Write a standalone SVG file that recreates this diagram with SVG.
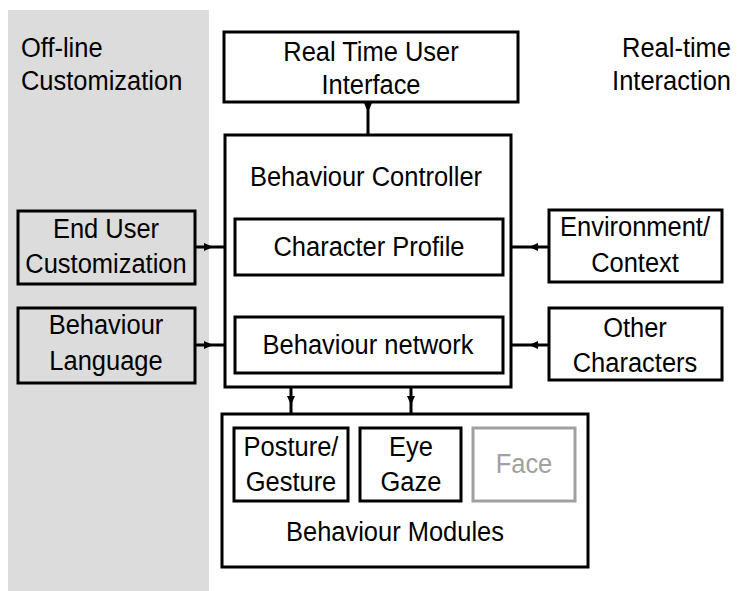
<svg xmlns="http://www.w3.org/2000/svg" width="737" height="591" viewBox="0 0 737 591">
  <style>
    text { font-family: "Liberation Sans", Arial, sans-serif; font-size: 28px; fill: #000;
           transform-box: fill-box; transform-origin: center; transform: scaleX(0.91); }
    .mid { text-anchor: middle; }
    .start { transform-origin: left; }
    .end { text-anchor: end; transform-origin: right; }
    .box { fill: #fff; stroke: #000; stroke-width: 3; }
    .gbox { fill: #dcdcdc; stroke: #000; stroke-width: 3; }
    .dim { fill: #fff; stroke: #a0a0a0; stroke-width: 3; }
    .dimtxt { fill: #a0a0a0; }
    .wire { fill: none; stroke: #000; stroke-width: 3; marker-mid: url(#head); }
  </style>
  <defs>
    <marker id="head" markerUnits="userSpaceOnUse" viewBox="-10 -5 11 10" refX="0" refY="0" markerWidth="11" markerHeight="10" orient="auto">
      <path d="M-9,-4 L0,0 L-9,4 z" fill="#000"/>
    </marker>
  </defs>

  <!-- off-line zone -->
  <rect id="offline-zone" x="8" y="10" width="201" height="581" fill="#dcdcdc"/>
  <g id="label-offline">
    <text class="start" x="21" y="57">Off-line</text>
    <text class="start" x="21" y="90">Customization</text>
  </g>
  <g id="label-realtime">
    <text class="end" x="731" y="57">Real-time</text>
    <text class="end" x="731" y="90">Interaction</text>
  </g>

  <!-- connectors -->
  <g id="connectors">
    <path class="wire" d="M368,102 L368,112 L368,135"/>
    <path class="wire" d="M195,247 L213,247 L235,247"/>
    <path class="wire" d="M195,345 L213,345 L235,345"/>
    <path class="wire" d="M549,247 L529,247 L503,247"/>
    <path class="wire" d="M549,345 L529,345 L503,345"/>
    <path class="wire" d="M291,387 L291,405 L291,428"/>
    <path class="wire" d="M411,387 L411,405 L411,428"/>
  </g>

  <g id="rt-ui">
    <rect class="box" x="224" y="32" width="294" height="70"/>
    <text class="mid" x="371" y="61">Real Time User</text>
    <text class="mid" x="371" y="94">Interface</text>
  </g>

  <g id="behaviour-controller">
    <rect class="box" x="225" y="135" width="286" height="252" fill="none"/>
    <text class="mid" x="366" y="186">Behaviour Controller</text>
  </g>

  <g id="character-profile">
    <rect class="box" x="235" y="219" width="268" height="56"/>
    <text class="mid" x="369" y="256">Character Profile</text>
  </g>

  <g id="behaviour-network">
    <rect class="box" x="235" y="317" width="268" height="56"/>
    <text class="mid" x="368" y="354">Behaviour network</text>
  </g>

  <g id="end-user-customization">
    <rect class="gbox" x="18" y="211" width="177" height="73"/>
    <text class="mid" x="106" y="238">End User</text>
    <text class="mid" x="106" y="273">Customization</text>
  </g>

  <g id="behaviour-language">
    <rect class="gbox" x="18" y="308" width="177" height="75"/>
    <text class="mid" x="106" y="334">Behaviour</text>
    <text class="mid" x="106" y="370">Language</text>
  </g>

  <g id="environment-context">
    <rect class="box" x="549" y="210" width="173" height="72"/>
    <text class="mid" x="635" y="236">Environment/</text>
    <text class="mid" x="635" y="272">Context</text>
  </g>

  <g id="other-characters">
    <rect class="box" x="549" y="308" width="173" height="72"/>
    <text class="mid" x="635" y="337">Other</text>
    <text class="mid" x="635" y="372">Characters</text>
  </g>

  <g id="behaviour-modules">
    <rect class="box" x="222" y="414" width="366" height="153"/>
    <text class="mid" x="395" y="541">Behaviour Modules</text>
  </g>

  <g id="posture-gesture">
    <rect class="box" x="234" y="428" width="114" height="73"/>
    <text class="mid" x="291" y="456">Posture/</text>
    <text class="mid" x="291" y="491">Gesture</text>
  </g>

  <g id="eye-gaze">
    <rect class="box" x="360" y="428" width="101" height="73"/>
    <text class="mid" x="411" y="456">Eye</text>
    <text class="mid" x="411" y="491">Gaze</text>
  </g>

  <g id="face">
    <rect class="dim" x="473" y="428" width="102" height="73"/>
    <text class="mid dimtxt" x="524" y="473">Face</text>
  </g>
</svg>
